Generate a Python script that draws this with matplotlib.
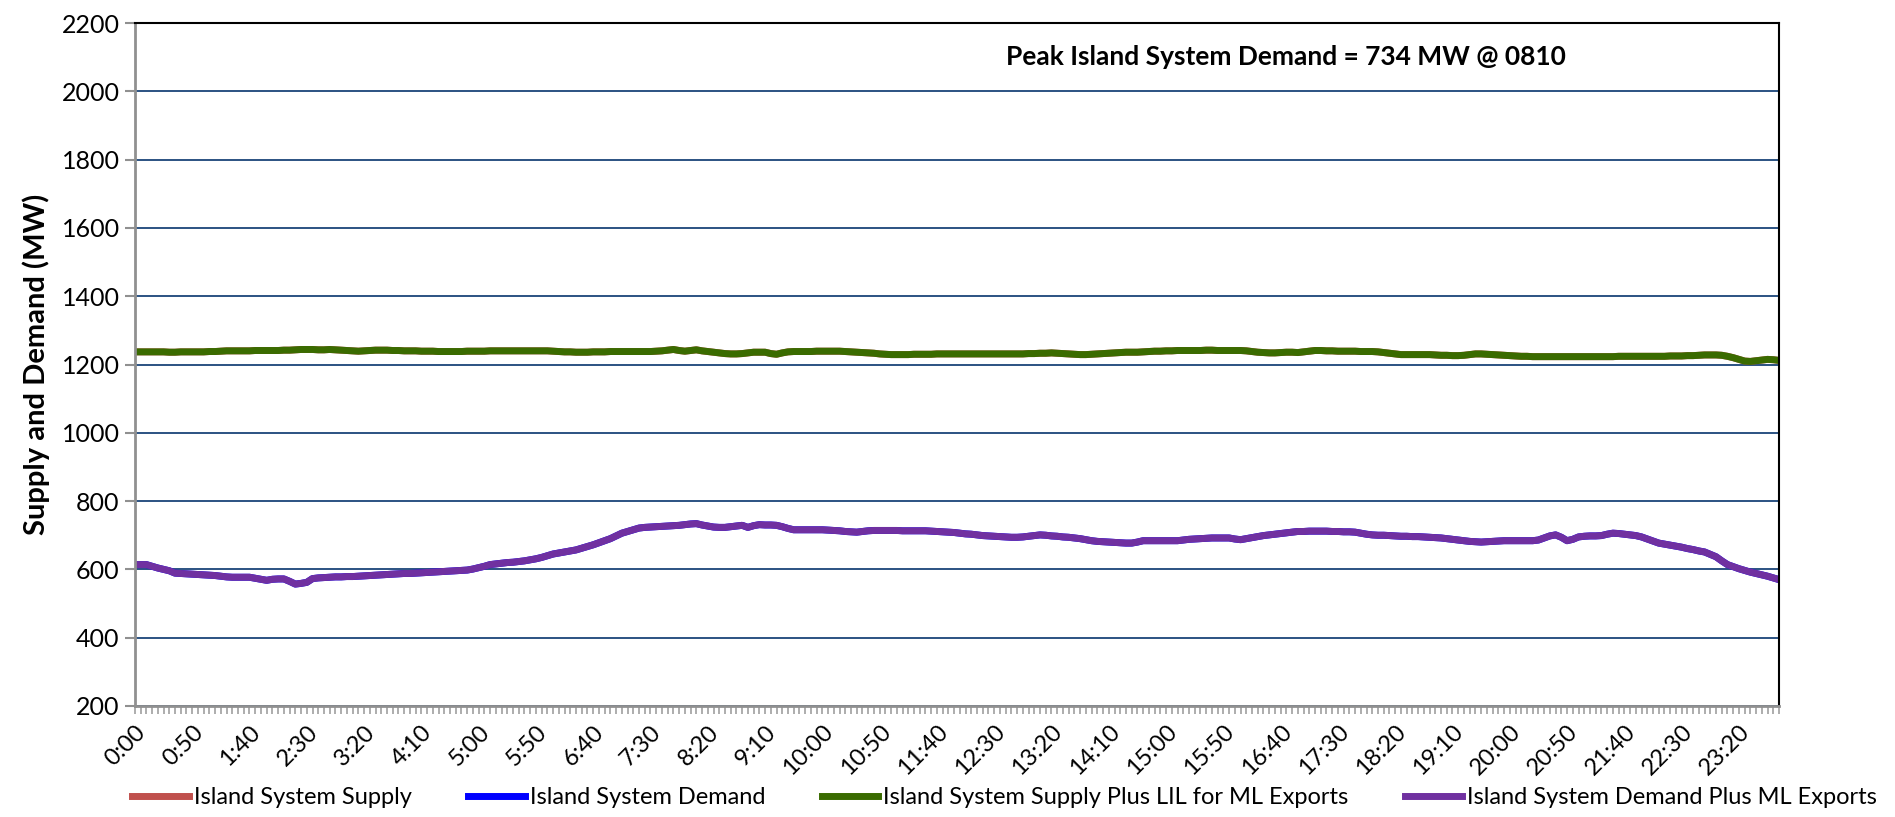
import numpy as np
import matplotlib
matplotlib.use("Agg")
import matplotlib.pyplot as plt

plt.rcParams['font.family'] = ['Lato', 'DejaVu Sans']

# 5-minute readings, 0:00 to 23:55 (288 points), one row per hour
island_supply = [
    1237, 1237, 1237, 1237, 1237, 1237, 1236, 1236, 1237, 1237, 1237, 1237,
    1237, 1238, 1238, 1239, 1240, 1240, 1240, 1240, 1240, 1241, 1241, 1241,
    1241, 1241, 1242, 1242, 1243, 1244, 1244, 1244, 1243, 1243, 1244, 1243,
    1242, 1241, 1240, 1239, 1240, 1241, 1242, 1242, 1242, 1241, 1241, 1240,
    1240, 1240, 1239, 1239, 1239, 1238, 1238, 1238, 1238, 1238, 1239, 1239,
    1239, 1239, 1240, 1240, 1240, 1240, 1240, 1240, 1240, 1240, 1240, 1240,
    1240, 1239, 1238, 1237, 1237, 1236, 1236, 1236, 1237, 1237, 1237, 1238,
    1238, 1238, 1238, 1238, 1238, 1238, 1238, 1239, 1240, 1242, 1244, 1241,
    1239, 1241, 1243, 1240, 1238, 1236, 1234, 1232, 1231, 1231, 1232, 1234,
    1236, 1236, 1236, 1232, 1230, 1234, 1237, 1238, 1238, 1238, 1238, 1239,
    1239, 1239, 1239, 1239, 1238, 1237, 1236, 1235, 1234, 1233, 1231, 1230,
    1229, 1229, 1229, 1229, 1230, 1230, 1230, 1230, 1231, 1231, 1231, 1231,
    1231, 1231, 1231, 1231, 1231, 1231, 1231, 1231, 1231, 1231, 1231, 1231,
    1232, 1232, 1233, 1233, 1234, 1233, 1232, 1231, 1230, 1229, 1229, 1230,
    1231, 1232, 1233, 1234, 1235, 1236, 1236, 1236, 1237, 1238, 1239, 1239,
    1240, 1240, 1241, 1241, 1241, 1241, 1241, 1242, 1242, 1241, 1241, 1241,
    1241, 1241, 1240, 1238, 1236, 1235, 1234, 1234, 1235, 1236, 1236, 1235,
    1237, 1239, 1241, 1241, 1240, 1240, 1239, 1239, 1239, 1239, 1238, 1238,
    1238, 1237, 1235, 1233, 1231, 1229, 1229, 1229, 1229, 1229, 1229, 1228,
    1227, 1227, 1226, 1226, 1227, 1229, 1231, 1231, 1230, 1229, 1228, 1227,
    1226, 1225, 1224, 1224, 1223, 1223, 1223, 1223, 1223, 1223, 1223, 1223,
    1223, 1223, 1223, 1223, 1223, 1223, 1223, 1224, 1224, 1224, 1224, 1224,
    1224, 1224, 1224, 1224, 1225, 1225, 1225, 1226, 1226, 1227, 1228, 1228,
    1228, 1227, 1224, 1220, 1215, 1210, 1209, 1211, 1213, 1215, 1214, 1212,
]

island_demand = [
    614, 614, 614, 609, 604, 600, 596, 589, 588, 587, 586, 585,
    584, 583, 582, 580, 578, 577, 577, 577, 577, 574, 571, 568,
    571, 572, 572, 565, 557, 559, 562, 573, 575, 576, 577, 578,
    578, 579, 579, 580, 581, 582, 583, 584, 585, 586, 587, 588,
    588, 589, 590, 591, 592, 593, 594, 595, 596, 597, 598, 601,
    605, 609, 614, 616, 618, 620, 621, 623, 625, 628, 631, 635,
    640, 645, 648, 651, 654, 657, 662, 667, 672, 678, 684, 690,
    698, 706, 711, 716, 721, 723, 724, 725, 726, 727, 728, 729,
    731, 733, 734, 730, 727, 724, 723, 723, 725, 727, 729, 723,
    728, 731, 730, 730, 729, 725, 720, 716, 716, 716, 716, 716,
    716, 715, 714, 713, 711, 710, 709, 711, 713, 714, 714, 714,
    714, 714, 713, 713, 713, 713, 713, 712, 711, 710, 709, 708,
    706, 704, 703, 701, 699, 698, 697, 696, 695, 694, 694, 695,
    697, 699, 701, 700, 698, 697, 695, 694, 692, 690, 687, 684,
    682, 681, 680, 679, 678, 677, 677, 680, 684, 684, 684, 684,
    684, 684, 684, 686, 688, 689, 690, 691, 692, 692, 692, 692,
    689, 687, 690, 693, 696, 699, 701, 703, 705, 707, 709, 711,
    711, 712, 712, 712, 712, 711, 711, 710, 710, 709, 706, 703,
    701, 700, 700, 699, 698, 697, 697, 696, 696, 695, 694, 693,
    692, 690, 688, 686, 684, 682, 681, 680, 681, 682, 683, 684,
    684, 684, 684, 684, 684, 686, 692, 698, 701, 694, 684, 688,
    695, 697, 698, 698, 699, 703, 706, 705, 703, 701, 699, 695,
    689, 683, 677, 674, 671, 668, 665, 661, 658, 654, 651, 644,
    637, 625, 614, 608, 602, 597, 592, 588, 584, 580, 575, 570,
]

# the export series read identical to the island series on this day
supply_plus_lil = island_supply
demand_plus_ml = island_demand

times = [f"{i // 12}:{(i % 12) * 5:02d}" for i in range(288)]
y_ticks = [200, 400, 600, 800, 1000, 1200, 1400, 1600, 1800, 2000, 2200]

x = np.arange(len(times))

fig = plt.figure(figsize=(18.95, 8.17), dpi=100)
ax = fig.add_axes([0.0712, 0.1359, 0.8676, 0.8359])

lw = 5
ax.plot(x, island_supply, color='#C0504D', lw=lw, label='Island System Supply')
ax.plot(x, island_demand, color='#0000FF', lw=lw, label='Island System Demand')
ax.plot(x, supply_plus_lil, color='#3A6B00', lw=lw,
        label='Island System Supply Plus LIL for ML Exports')
ax.plot(x, demand_plus_ml, color='#7030A0', lw=lw,
        label='Island System Demand Plus ML Exports')

ax.set_xlim(0, len(times) - 1)
ax.set_ylim(200, 2200)
ax.set_yticks(y_ticks)
ax.set_yticklabels([str(v) for v in y_ticks], fontsize=18)
ax.yaxis.grid(True, color='#2B5282', lw=1.4)
ax.set_axisbelow(True)

ax.set_xticks(x[::10])
ax.set_xticklabels(times[::10], rotation=45, ha='right', rotation_mode='anchor',
                   fontsize=17)
ax.set_xticks(x, minor=True)
ax.tick_params(axis='x', which='both', length=6, width=1.2, color='#A0A0A0',
               direction='out', pad=5)
ax.tick_params(axis='y', length=7, width=1.5, color='#909090', pad=4)

for side in ['left', 'bottom']:
    ax.spines[side].set_color('#909090')
    ax.spines[side].set_linewidth(2)
for side in ['top', 'right']:
    ax.spines[side].set_color('black')
    ax.spines[side].set_linewidth(1.5)

ax.set_ylabel('Supply and Demand (MW)', fontsize=21, fontweight='bold', labelpad=8)

ax.text(152, 2100, 'Peak Island System Demand = 734 MW @ 0810', fontsize=19,
        fontweight='bold', ha='left', va='center')

fig.legend(loc='center', bbox_to_anchor=(0.53, 0.024), ncol=4, frameon=False,
           fontsize=17, handlelength=2.4, handletextpad=0.2, columnspacing=2.4)

fig.savefig('out.png', dpi=100)
